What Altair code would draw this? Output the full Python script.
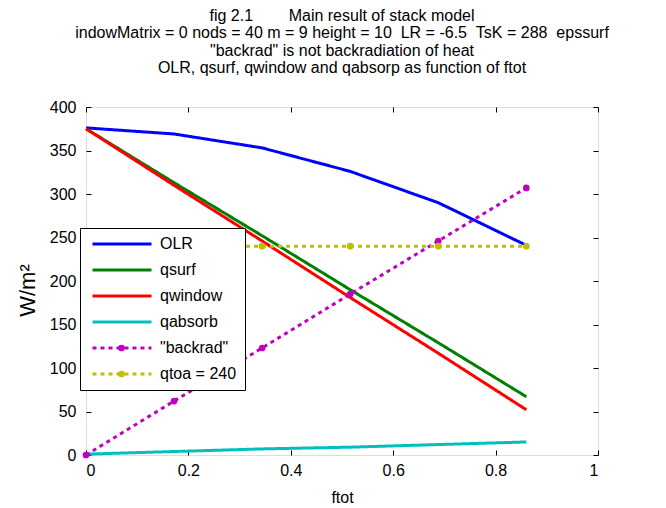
import altair as alt
import pandas as pd

ftot = [0.0, 0.172, 0.344, 0.516, 0.688, 0.86]
olr = [376, 369, 353, 326, 290, 241]
qsurf = [375, 313, 252, 190, 129, 67]
qwindow = [375, 310, 246, 181, 117, 52]
qabsorb = [1, 4, 7, 9, 12, 15]
backrad = [0, 62, 123, 185, 246, 307]
qtoa = [240, 240, 240, 240, 240, 240]

series_names = ["OLR", "qsurf", "qwindow", "qabsorb", "\"backrad\"", "qtoa = 240"]
series_vals = [olr, qsurf, qwindow, qabsorb, backrad, qtoa]
colors = ["#0000ff", "#008000", "#ff0000", "#00bfbf", "#bf00bf", "#bfbf00"]
dashes = [[1, 0], [1, 0], [1, 0], [1, 0], [4, 4], [4, 4]]
marker_series = ["\"backrad\"", "qtoa = 240"]
marker_colors = ["#bf00bf", "#bfbf00"]

x_ticks = [0, 0.2, 0.4, 0.6, 0.8, 1]
y_ticks = [0, 50, 100, 150, 200, 250, 300, 350, 400]

NB = "\u00a0"
title_lines = [
    "fig 2.1" + NB * 8 + "Main result of stack model",
    "indowMatrix = 0 nods = 40 m = 9 height = 10" + NB * 2 + "LR = -6.5" + NB * 2
    + "TsK = 288" + NB * 2 + "epssurf",
    "\"backrad\" is not backradiation of heat",
    "OLR, qsurf, qwindow and qabsorp as function of ftot",
]

rows = []
for name, vals in zip(series_names, series_vals):
    for f, v in zip(ftot, vals):
        rows.append({"series": name, "ftot": f, "value": v})
df = pd.DataFrame(rows)

FONT = "Liberation Sans"
xs = alt.Scale(domain=[0, 1], nice=False)
ys = alt.Scale(domain=[0, 400], nice=False)
cs = alt.Scale(domain=series_names, range=colors)
ds = alt.Scale(domain=series_names, range=dashes)
ms = alt.Scale(domain=marker_series, range=marker_colors)

leg = dict(title=None, orient="none", legendX=-6, legendY=121,
           symbolType="stroke", symbolSize=3481, symbolStrokeWidth=3,
           clipHeight=16, rowPadding=10, padding=8,
           labelFontSize=16, labelFont=FONT, labelColor="black",
           fillColor="white", strokeColor="black", labelOffset=7,
           symbolOffset=3, zindex=1)

lines = alt.Chart(df).mark_line(strokeWidth=3).encode(
    x=alt.X("ftot:Q", scale=xs, axis=alt.Axis(
        orient="bottom", title="ftot", values=x_ticks, format="g",
        tickSize=0, domain=False, grid=False, labelFontSize=16, labelFont=FONT,
        labelColor="black", labelPadding=7, titleFontSize=16, titleFont=FONT,
        titleFontWeight="normal", titleColor="black", titlePadding=11)),
    y=alt.Y("value:Q", scale=ys, axis=alt.Axis(
        orient="left", title="W/m²", values=y_ticks, format="d",
        tickSize=0, domain=False, grid=False, labelFontSize=16, labelFont=FONT,
        labelColor="black", labelPadding=10, titleFontSize=22, titleFont=FONT,
        titleFontWeight="normal", titleColor="black", titlePadding=10, titleY=183)),
    color=alt.Color("series:N", scale=cs, legend=alt.Legend(**leg)),
    strokeDash=alt.StrokeDash("series:N", scale=ds, legend=alt.Legend(**leg)),
    order=alt.Order("ftot:Q"),
)

points = alt.Chart(df).transform_filter(
    alt.FieldOneOfPredicate(field="series", oneOf=marker_series)
).mark_circle(size=45, opacity=1).encode(
    x=alt.X("ftot:Q", scale=xs, axis=None),
    y=alt.Y("value:Q", scale=ys, axis=None),
    fill=alt.Fill("series:N", scale=ms, legend=alt.Legend(
        title=None, orient="none", legendX=31, legendY=233, symbolType="circle",
        symbolSize=45, symbolOpacity=1, clipHeight=16, rowPadding=10, padding=0,
        labelExpr="''", labelFontSize=1, zindex=2)),
)

ticks_bl = alt.Chart(df).mark_point(opacity=0).encode(
    x=alt.X("ftot:Q", scale=xs, axis=alt.Axis(orient="bottom", labels=False, domain=False,
            grid=False, title=None, tickSize=5, tickColor="black", offset=-5, values=x_ticks)),
    y=alt.Y("value:Q", scale=ys, axis=alt.Axis(orient="left", labels=False, domain=False,
            grid=False, title=None, tickSize=5, tickColor="black", offset=-5, values=y_ticks)),
)
ticks_tr = alt.Chart(df).mark_point(opacity=0).encode(
    x=alt.X("ftot:Q", scale=xs, axis=alt.Axis(orient="top", labels=False, domain=False,
            grid=False, title=None, tickSize=5, tickColor="black", offset=-5, values=x_ticks)),
    y=alt.Y("value:Q", scale=ys, axis=alt.Axis(orient="right", labels=False, domain=False,
            grid=False, title=None, tickSize=5, tickColor="black", offset=-5, values=y_ticks)),
)

chart = alt.layer(lines, points, ticks_bl, ticks_tr).resolve_axis(
    x="independent", y="independent"
).properties(
    width=512, height=348,
    autosize=alt.AutoSizeParams(type="none"),
    padding={"left": 78, "top": 99, "right": 60, "bottom": 52},
    title=alt.TitleParams(text=title_lines, font=FONT, fontSize=16, fontWeight="normal",
                          color="black", lineHeight=17.5, anchor="middle", offset=23),
).configure_view(stroke="black", strokeWidth=1.5).configure(background="white")

chart.save("out.html", embed_options={"renderer": "svg", "actions": False})
